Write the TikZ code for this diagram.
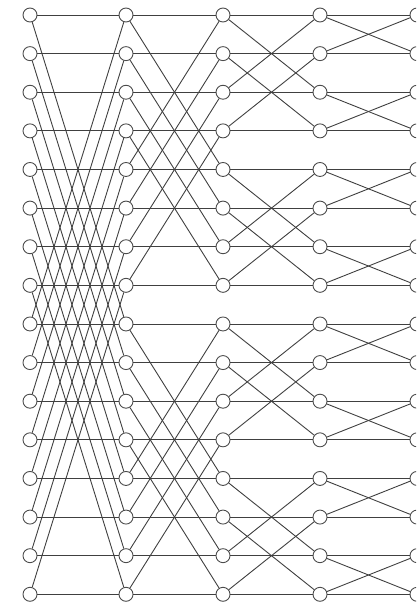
\documentclass[tikz,border=0pt]{standalone}
\begin{document}
\begin{tikzpicture}[x=1pt,y=-1pt,
  nd/.style={circle,draw=black!70,fill=white,line width=0.9pt,minimum size=14pt,inner sep=0pt},
  wire/.style={draw=black!75,line width=0.9pt}]
\useasboundingbox (0,0) rectangle (416,608);
\begin{scope}
\clip (0,0) rectangle (416,608);
\foreach \c/\x in {0/30,1/126,2/223,3/320,4/417} {
  \foreach \r in {0,...,15} {
    \node[nd] (n\c-\r) at (\x,{15+38.62*\r}) {};
  }
}
\foreach \c/\s in {0/8,1/4,2/2,3/1} {
  \pgfmathtruncatemacro{\nc}{\c+1}
  \foreach \r in {0,...,15} {
    \pgfmathtruncatemacro{\bit}{mod(floor(\r/\s),2)}
    \pgfmathtruncatemacro{\p}{\bit==0 ? \r+\s : \r-\s}
    \draw[wire] (n\c-\r) -- (n\nc-\r);
    \draw[wire] (n\c-\r) -- (n\nc-\p);
  }
}
\end{scope}
\end{tikzpicture}
\end{document}
